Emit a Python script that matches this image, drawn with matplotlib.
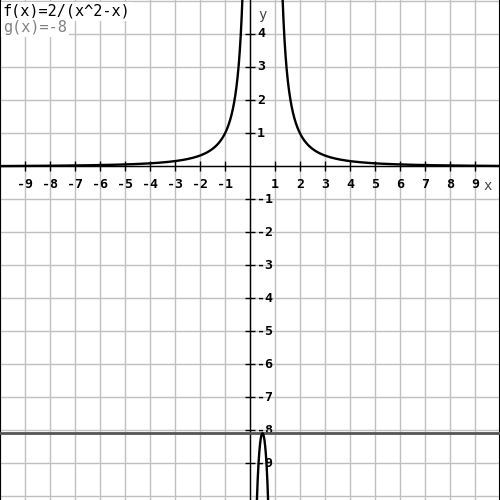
import numpy as np
import matplotlib
matplotlib.use("Agg")
import matplotlib.pyplot as plt
import matplotlib.transforms as mtransforms

# Function definitions shown in the chart
f_numerator = 2.0          # f(x) = 2/(x^2 - x)
g_value = -8.0             # g(x) = -8
f_label = "f(x)=2/(x^2-x)"
g_label = "g(x)=-8"

x_ticks = [-9, -8, -7, -6, -5, -4, -3, -2, -1, 1, 2, 3, 4, 5, 6, 7, 8, 9]
y_ticks = [4, 3, 2, 1, -1, -2, -3, -4, -5, -6, -7, -8, -9]
x_range = (-10.0, 10.0)
y_range = (-10.0, 5.0)          # data scale
grid_y_range = (-10.12, 5.03)   # grid drawn at whole-pixel spacing

mono = "DejaVu Sans Mono"

fig = plt.figure(figsize=(5, 5), dpi=100)
ax = fig.add_axes([0, 0, 1, 1])
ax.set_xlim(*x_range)
ax.set_ylim(*grid_y_range)

# grid
ax.set_xticks(np.arange(-10, 11, 1))
ax.set_yticks(np.arange(-10, 6, 1))
ax.grid(True, color="#c0c0c0", linewidth=1.0, zorder=0)
ax.tick_params(length=0, labelbottom=False, labelleft=False)
ax.set_axisbelow(True)
for s in ["top", "bottom"]:
    ax.spines[s].set_visible(False)
for s in ["left", "right"]:
    ax.spines[s].set_color("black")
    ax.spines[s].set_linewidth(1.5)

# axes
ax.axhline(0, color="black", linewidth=1.0, zorder=2)
ax.axvline(0, color="black", linewidth=1.0, zorder=2)

# tick marks
ax.plot(x_ticks, [0] * len(x_ticks), linestyle="none", marker="|",
        markersize=7, markeredgewidth=1.0, color="black", zorder=2)
ax.plot([0] * len(y_ticks), y_ticks, linestyle="none", marker="_",
        markersize=7, markeredgewidth=1.0, color="black", zorder=2)

# tick labels
def to_px(a, dx, dy):
    return mtransforms.offset_copy(a.transData, fig=fig, x=dx, y=dy, units="dots")

for xv in x_ticks:
    ax.text(xv, 0, str(xv), transform=to_px(ax, 0, -18), ha="center", va="center",
            fontsize=9.5, family=mono, fontweight="bold", zorder=3)
for yv in y_ticks:
    ax.text(0, yv, str(yv), transform=to_px(ax, 7, 0), ha="left", va="center",
            fontsize=9.5, family=mono, fontweight="bold", zorder=3)
ax.text(0, grid_y_range[1], "y", transform=to_px(ax, 12, -15), ha="center", va="center",
        fontsize=10, family=mono, color="#444444", zorder=3)
ax.text(x_range[1], 0, "x", transform=to_px(ax, -12, -20), ha="center", va="center",
        fontsize=10, family=mono, color="#444444", zorder=3)

# data axes on top
axd = fig.add_axes([0, 0, 1, 1])
axd.set_xlim(*x_range)
axd.set_ylim(*y_range)
axd.patch.set_visible(False)
axd.axis("off")

# g(x)
axd.plot(list(x_range), [g_value, g_value], color="#555555", linewidth=2.0, zorder=4)

# f(x)
xs = np.linspace(x_range[0], x_range[1], 8001)
with np.errstate(divide="ignore", invalid="ignore"):
    ys = f_numerator / (xs ** 2 - xs)
ys[(ys > 20) | (ys < -20)] = np.nan
axd.plot(xs, ys, color="black", linewidth=1.7, zorder=5)

# labels
ident = mtransforms.IdentityTransform()
axd.text(3, 496, f_label, transform=ident, ha="left", va="top", fontsize=11,
         family=mono, color="black", zorder=6,
         bbox=dict(facecolor="white", edgecolor="none", pad=1.5))
axd.text(3, 480, g_label, transform=ident, ha="left", va="top", fontsize=11,
         family=mono, color="#808080", zorder=6,
         bbox=dict(facecolor="white", edgecolor="none", pad=1.5))

fig.savefig("out.png", dpi=100)
